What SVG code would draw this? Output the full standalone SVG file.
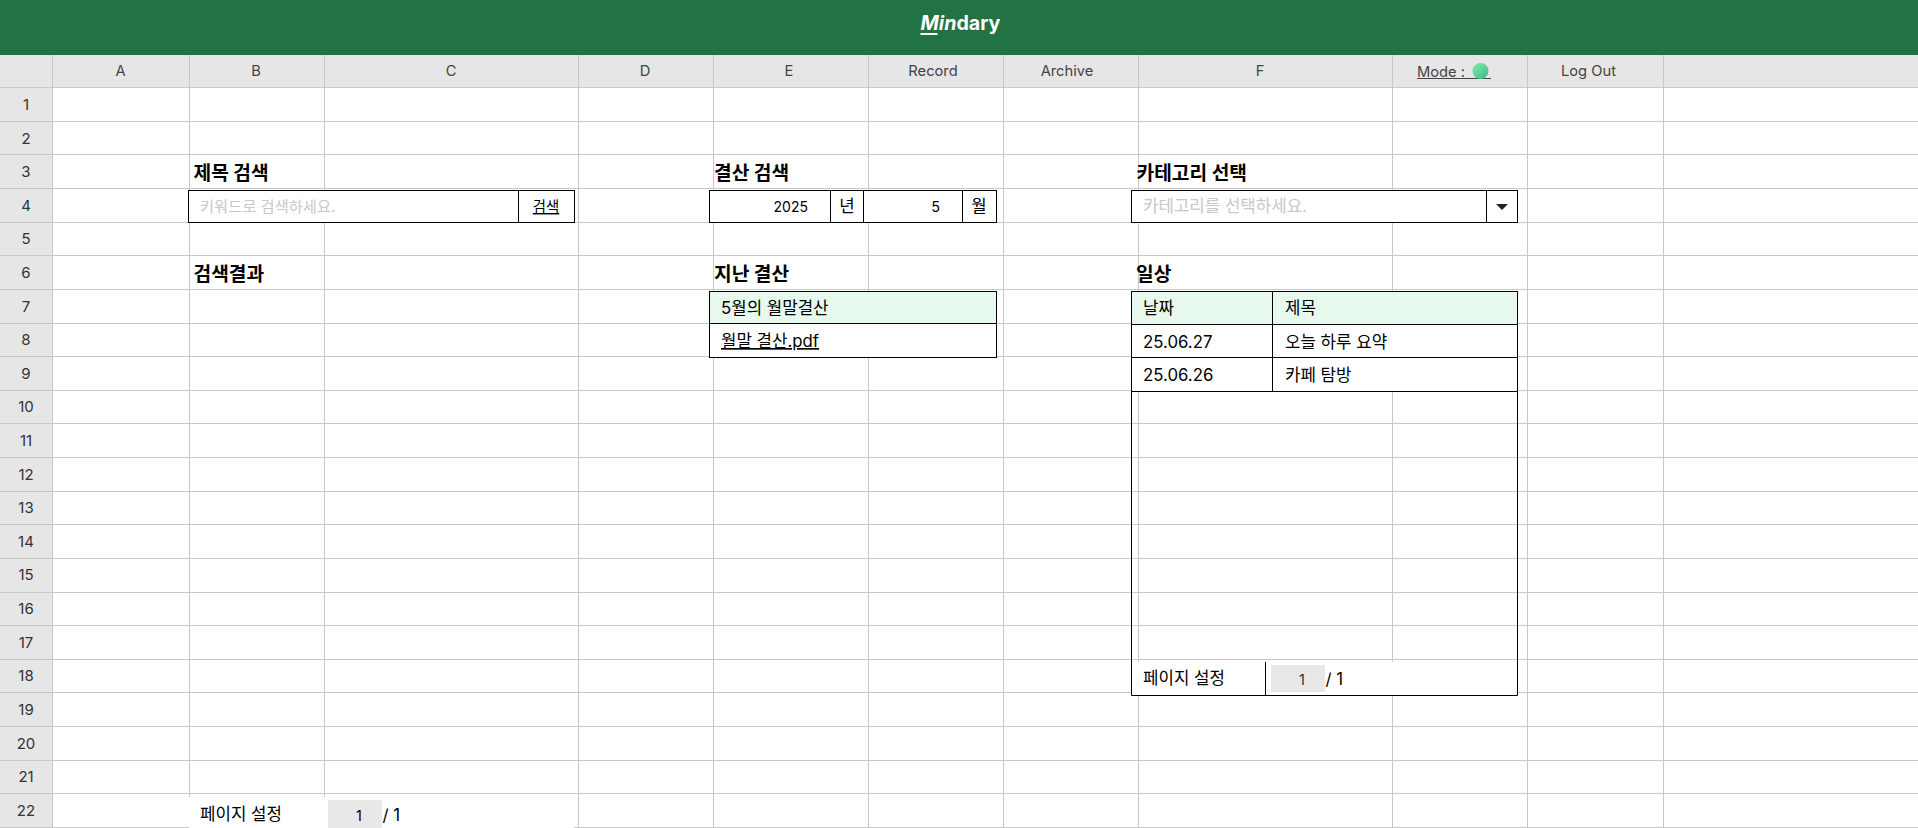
<svg xmlns="http://www.w3.org/2000/svg" width="1918" height="828" viewBox="0 0 1918 828">
<style>
text{font-family:Inter,"Noto Sans CJK KR","Noto Sans",sans-serif}
.g{stroke:#c8c8c8;stroke-width:1;fill:none}
.b{stroke:#000;stroke-width:1;fill:none}
.w{stroke:#000;stroke-width:1;fill:#fff}
.hd{font-size:14.7px;fill:#444;text-anchor:middle}
.rn{font-size:15px;fill:#333;text-anchor:middle}
.h{font-size:19.2px;font-weight:700;fill:#000}
.t{font-size:16.8px;fill:#000}
.s{font-size:14.4px;fill:#000}
</style>
<defs>
<linearGradient id="dot" x1="0" y1="0" x2="1" y2="1"><stop offset="0" stop-color="#7eeea6"/><stop offset="1" stop-color="#3db592"/></linearGradient>
</defs>
<rect width="1918" height="828" fill="#fff"/>
<g id="title-bar"><rect width="1918" height="55" fill="#217346"/>
<text x="920.5" y="29.500" font-size="19.700px" font-weight="700" fill="#fff"><tspan font-style="italic">Min</tspan>dary</text>
<rect x="920.5" y="33" width="17" height="2" fill="#fff"/></g>
<g id="column-headers"><rect y="55" width="1918" height="33" fill="#e6e6e6"/>
<text class="hd" x="120.500" y="76">A</text><text class="hd" x="256" y="76">B</text><text class="hd" x="451" y="76">C</text><text class="hd" x="645" y="76">D</text><text class="hd" x="789" y="76">E</text><text class="hd" x="933" y="76">Record</text><text class="hd" x="1067" y="76">Archive</text><text class="hd" x="1260" y="76">F</text>
<text class="hd" x="1417" y="76.500" style="text-anchor:start">Mode :</text><line x1="1417" y1="78.500" x2="1491" y2="78.500" stroke="#444" stroke-width="1"/><circle cx="1480.500" cy="71" r="8" fill="url(#dot)"/>
<text class="hd" x="1588.500" y="76">Log Out</text></g>
<g id="row-headers"><rect y="88" width="52.500" height="740" fill="#e6e6e6"/>
<text class="rn" x="26" y="110">1</text><text class="rn" x="26" y="144">2</text><text class="rn" x="26" y="177">3</text><text class="rn" x="26" y="211">4</text><text class="rn" x="26" y="244">5</text><text class="rn" x="26" y="278">6</text><text class="rn" x="26" y="312">7</text><text class="rn" x="26" y="345">8</text><text class="rn" x="26" y="379">9</text><text class="rn" x="26" y="412">10</text><text class="rn" x="26" y="446">11</text><text class="rn" x="26" y="480">12</text><text class="rn" x="26" y="513">13</text><text class="rn" x="26" y="547">14</text><text class="rn" x="26" y="580">15</text><text class="rn" x="26" y="614">16</text><text class="rn" x="26" y="648">17</text><text class="rn" x="26" y="681">18</text><text class="rn" x="26" y="715">19</text><text class="rn" x="26" y="749">20</text><text class="rn" x="26" y="782">21</text><text class="rn" x="26" y="816">22</text></g>
<path id="grid" class="g" d="M52.500 55V828M189.500 55V828M324.500 55V828M578.500 55V828M713.500 55V828M868.500 55V828M1003.500 55V828M1138.500 55V828M1392.500 55V828M1527.500 55V828M1663.500 55V828M0 87.500H1918M0 121.500H1918M0 154.500H1918M0 188.500H1918M0 222.500H1918M0 255.500H1918M0 289.500H1918M0 323.500H1918M0 356.500H1918M0 390.500H1918M0 423.500H1918M0 457.500H1918M0 491.500H1918M0 524.500H1918M0 558.500H1918M0 592.500H1918M0 625.500H1918M0 659.500H1918M0 692.500H1918M0 726.500H1918M0 760.500H1918M0 793.500H1918M0 827.500H1918"/>
<g id="title-search"><text class="h" x="193.500" y="180">제목 검색</text>
<rect class="w" x="188.500" y="190.500" width="386" height="32"/><line class="b" x1="518.500" y1="190.500" x2="518.500" y2="222.500"/>
<text x="200" y="212" font-size="15.300px" fill="#c8c8c8">키워드로 검색하세요.</text><text class="s" x="546" y="212" text-anchor="middle" text-decoration="underline">검색</text></g>
<g id="results-heading"><text class="h" x="193.500" y="281">검색결과</text></g>
<g id="settlement-search"><text class="h" x="714" y="180">결산 검색</text>
<rect class="w" x="709.500" y="190.500" width="287" height="32"/><path class="b" d="M830.500 190.500V222.500M863.500 190.500V222.500M962.500 190.500V222.500"/>
<text x="808" y="212" font-size="14px" text-anchor="end">2025</text><text class="t" x="847" y="212" text-anchor="middle">년</text><text class="s" x="940" y="212" text-anchor="end">5</text><text class="t" x="979" y="212" text-anchor="middle">월</text></g>
<g id="past-settlement"><text class="h" x="714" y="281">지난 결산</text>
<rect class="w" x="709.500" y="291.500" width="287" height="66"/><rect x="710" y="292" width="286" height="31" fill="#e6f9ec"/><line class="b" x1="709.500" y1="323.500" x2="996.500" y2="323.500"/>
<text class="t" x="721" y="314">5월의 월말결산</text><text class="t" x="721" y="347" text-decoration="underline">월말 결산.pdf</text></g>
<g id="category-select"><text class="h" x="1136.500" y="180">카테고리 선택</text>
<rect class="w" x="1131.500" y="190.500" width="386" height="32"/><line class="b" x1="1486.500" y1="190.500" x2="1486.500" y2="222.500"/>
<text x="1143" y="212" font-size="16.800px" fill="#c8c8c8">카테고리를 선택하세요.</text><path d="M1496 204H1508L1502 210Z" fill="#222"/></g>
<g id="daily-table"><text class="h" x="1136" y="281">일상</text>
<rect class="w" x="1131.500" y="291.500" width="386" height="100"/><rect x="1132" y="292" width="385" height="32" fill="#e6f9ec"/>
<path class="b" d="M1131.500 324.500H1517.500M1131.500 357.500H1517.500M1272.500 291.500V391.500"/>
<text class="t" x="1143" y="314">날짜</text><text class="t" x="1285" y="314">제목</text><text class="t" x="1143" y="348">25.06.27</text><text class="t" x="1285" y="348">오늘 하루 요약</text><text class="t" x="1143" y="381">25.06.26</text><text class="t" x="1285" y="381">카페 탐방</text>
<rect x="1132" y="662" width="385" height="33" fill="#fff"/><path class="b" d="M1131.500 391.500V695.500H1517.500V391.500M1265.500 662V695.500"/>
<rect x="1271" y="665" width="54" height="27" fill="#e8e8e8"/><text class="t" x="1143" y="684">페이지 설정</text><text x="1302" y="685" font-size="14.400px" text-anchor="middle" fill="#333">1</text><text class="t" x="1325.500" y="685" fill="#333">/ 1</text></g>
<g id="results-pager"><rect x="189" y="797" width="385" height="31" fill="#fff"/>
<rect x="328" y="800" width="54" height="28" fill="#e8e8e8"/><text class="t" x="200" y="820">페이지 설정</text><text class="s" x="359" y="821" text-anchor="middle">1</text><text class="t" x="382.500" y="821">/ 1</text></g>
</svg>
